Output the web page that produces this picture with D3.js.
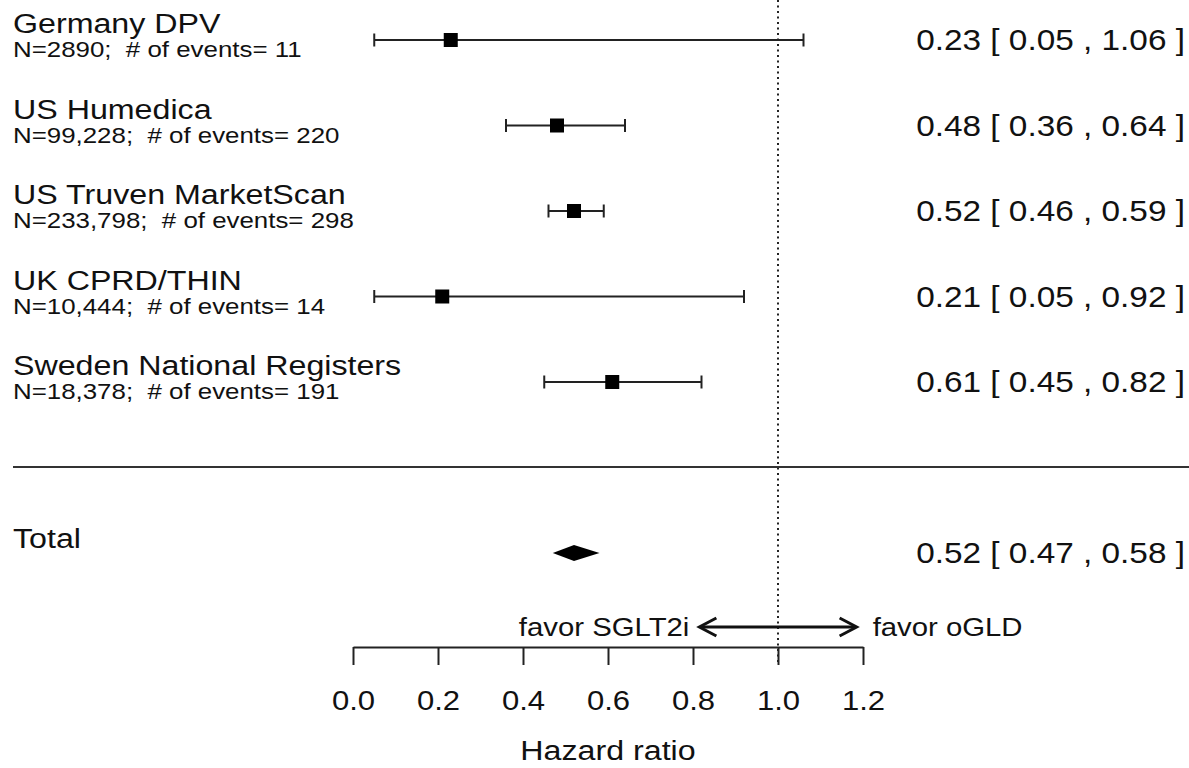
<!DOCTYPE html>
<html>
<head>
<meta charset="utf-8">
<script src="https://cdn.jsdelivr.net/npm/d3@7"></script>
<style>
  html, body { margin: 0; padding: 0; background: #fff; }
  svg { display: block; }
  text { font-family: "Liberation Sans", Arial, Helvetica, sans-serif; fill: #111; white-space: pre; }
</style>
</head>
<body>
<svg id="chart" width="1189" height="768"></svg>
<script>
// ---- data ----
const studies = ["Germany DPV", "US Humedica", "US Truven MarketScan", "UK CPRD/THIN", "Sweden National Registers"];
const details = ["N=2890;  # of events= 11", "N=99,228;  # of events= 220", "N=233,798;  # of events= 298", "N=10,444;  # of events= 14", "N=18,378;  # of events= 191"];
const hr = [0.23, 0.48, 0.52, 0.21, 0.61];
const lower = [0.05, 0.36, 0.46, 0.05, 0.45];
const upper = [1.06, 0.64, 0.59, 0.92, 0.82];
const totalLabel = "Total";
const totalHR = 0.52, totalLower = 0.47, totalUpper = 0.58;
const tickValues = [0.0, 0.2, 0.4, 0.6, 0.8, 1.0, 1.2];
const axisTitle = "Hazard ratio";
const favorLeft = "favor SGLT2i";
const favorRight = "favor oGLD";
const arrowRange = [0.815, 1.185];
const refValue = 1.0;

// ---- layout ----
const svg = d3.select("#chart");
const SX = 1.15; // horizontal text stretch of reference
const x = d3.scaleLinear().domain([0, 1.2]).range([353, 863]);
const y = d3.scalePoint().domain(studies).range([40, 382]);
const totalY = 553;
const axisY = 647;
const f2 = d3.format(".2f");
const ciText = (m, l, u) => `${f2(m)} [ ${f2(l)} , ${f2(u)} ]`;

function stretchedText(g, tx, ty, str, size, anchor) {
  return g.append("text")
    .attr("transform", `translate(${tx},${ty}) scale(${SX},1)`)
    .attr("text-anchor", anchor || "start")
    .attr("xml:space", "preserve")
    .style("font-size", size + "px")
    .text(str);
}

// reference dotted line
svg.append("line")
  .attr("x1", x(refValue)).attr("x2", x(refValue))
  .attr("y1", 0).attr("y2", axisY + 18)
  .attr("stroke", "#222").attr("stroke-width", 2)
  .attr("stroke-dasharray", "2,3.5");

// rows
const rows = svg.append("g");
studies.forEach((s, i) => {
  const yy = y(s);
  stretchedText(rows, 13, yy - 7, s, 28);
  stretchedText(rows, 13, yy + 17, details[i], 22.5);
  // CI line
  rows.append("line").attr("x1", x(lower[i])).attr("x2", x(upper[i]))
    .attr("y1", yy).attr("y2", yy).attr("stroke", "#222").attr("stroke-width", 2);
  [lower[i], upper[i]].forEach(v => {
    rows.append("line").attr("x1", x(v)).attr("x2", x(v))
      .attr("y1", yy - 6.5).attr("y2", yy + 6.5).attr("stroke", "#222").attr("stroke-width", 2);
  });
  rows.append("rect").attr("x", x(hr[i]) - 7).attr("y", yy - 7)
    .attr("width", 14).attr("height", 14).attr("fill", "#000");
  stretchedText(rows, 1185, yy + 10, ciText(hr[i], lower[i], upper[i]), 29, "end");
});

// divider
svg.append("line").attr("x1", 13).attr("x2", 1189).attr("y1", 467).attr("y2", 467)
  .attr("stroke", "#333").attr("stroke-width", 2.2);

// total
stretchedText(svg, 13, 548, totalLabel, 28);
svg.append("path")
  .attr("d", `M${x(totalLower)},${totalY} L${x(totalHR)},${totalY - 8} L${x(totalUpper)},${totalY} L${x(totalHR)},${totalY + 8} Z`)
  .attr("fill", "#000");
stretchedText(svg, 1185, totalY + 10, ciText(totalHR, totalLower, totalUpper), 29, "end");

// favor arrow
const arrowY = 627;
const ax1 = x(arrowRange[0]), ax2 = x(arrowRange[1]);
svg.append("line").attr("x1", ax1 + 1).attr("x2", ax2 - 1).attr("y1", arrowY).attr("y2", arrowY)
  .attr("stroke", "#111").attr("stroke-width", 3);
svg.append("path")
  .attr("d", `M${ax1 + 17},${arrowY - 9} L${ax1},${arrowY} L${ax1 + 17},${arrowY + 9}`)
  .attr("fill", "none").attr("stroke", "#111").attr("stroke-width", 3).attr("stroke-linejoin", "miter");
svg.append("path")
  .attr("d", `M${ax2 - 17},${arrowY - 9} L${ax2},${arrowY} L${ax2 - 17},${arrowY + 9}`)
  .attr("fill", "none").attr("stroke", "#111").attr("stroke-width", 3).attr("stroke-linejoin", "miter");
stretchedText(svg, ax1 - 10, arrowY + 9, favorLeft, 25.5, "end");
stretchedText(svg, ax2 + 16, arrowY + 9, favorRight, 25.5, "start");

// axis
const axis = d3.axisBottom(x).tickValues(tickValues).tickFormat(d3.format(".1f"))
  .tickSizeInner(18).tickSizeOuter(0).tickPadding(26);
const ag = svg.append("g").attr("transform", `translate(0,${axisY})`).call(axis);
ag.select(".domain").attr("stroke", "#222").attr("stroke-width", 2);
ag.selectAll(".tick line").attr("stroke", "#222").attr("stroke-width", 2);
ag.selectAll(".tick text")
  .attr("fill", "#111")
  .style("font-family", "'Liberation Sans', Arial, sans-serif")
  .style("font-size", "27px")
  .attr("transform", `scale(${SX},1)`);

stretchedText(svg, x(0.6), 760, axisTitle, 28, "middle");
</script>
</body>
</html>
